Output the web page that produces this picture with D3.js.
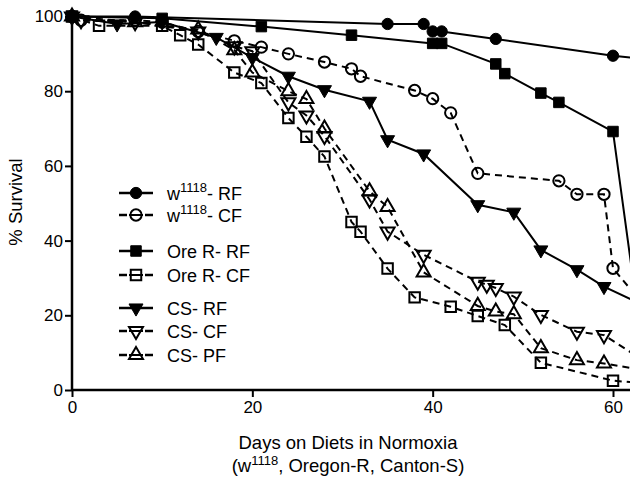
<!DOCTYPE html>
<html>
<head>
<meta charset="utf-8">
<script src="https://cdn.jsdelivr.net/npm/d3@7"></script>
<style>
  body { margin: 0; background: #fff; }
  text { font-family: "Liberation Sans", Arial, sans-serif; fill: #000; }
</style>
</head>
<body>
<script>
// survival data: [day, % survival]
const wRF = [[0,100],[7,100],[35,98],[39,98],[40,96],[41,96],[47,94],[60,89.5],[66,88]];
const wCF = [[0,100],[1,99],[7,99],[10,98.5],[14,96],[18,93.5],[21,91.8],[24,90],[28,87.8],[31,86],[32,84],[38,80.2],[40,78],[42,74.2],[45,58],[54,56],[56,52.4],[59,52.4],[60,32.6],[64,21]];
const oreRF = [[0,100],[10,99.5],[21,97.3],[31,95],[40,92.8],[41,92.8],[47,87.3],[48,84.7],[52,79.5],[54,77],[60,69.2],[63,16]];
const oreCF = [[0,100],[3,97.5],[10,97.5],[12,95],[14,92.5],[18,85],[21,82.2],[24,72.8],[26,67.8],[28,62.5],[31,45],[32,42.4],[35,32.5],[38,24.8],[42,22.3],[45,19.8],[48,17.4],[52,7.3],[60,2.5],[65,1.5]];
const csRF = [[0,100],[5,98],[10,98.5],[16,94.4],[20,89],[24,84],[28,80.4],[33,77.3],[35,67],[39,63.2],[45,49.6],[49,47.6],[52,37.5],[56,32.2],[59,27.7],[64,22]];
const csCF = [[0,100],[1,99],[7,98.5],[14,96],[18,92],[20,90.7],[24,77],[26,73.5],[28,68],[33,51],[35,42.4],[39,36.2],[45,29],[46,28.2],[47,27.3],[49,25],[52,20.1],[56,15.6],[59,14.7],[63,8.5]];
const csPF = [[0,100],[7,98.5],[14,96.5],[18,91],[20,85],[24,80],[26,77.9],[28,70],[33,53.2],[35,49],[39,31.5],[45,22.5],[47,21],[49,20.3],[52,11.2],[56,8],[59,7.1],[63,5.5]];

const xTicks = [0, 20, 40, 60];
const yTicks = [0, 20, 40, 60, 80, 100];

// series: name parts, data, marker, filled?, dashed?
const series = [
  {pre: "w", sup: "1118", post: "- RF", data: wRF, shape: "circle", fill: true, dash: false},
  {pre: "w", sup: "1118", post: "- CF", data: wCF, shape: "circle", fill: false, dash: true},
  {pre: "Ore R- RF", sup: "", post: "", data: oreRF, shape: "square", fill: true, dash: false},
  {pre: "Ore R- CF", sup: "", post: "", data: oreCF, shape: "square", fill: false, dash: true},
  {pre: "CS- RF", sup: "", post: "", data: csRF, shape: "down", fill: true, dash: false},
  {pre: "CS- CF", sup: "", post: "", data: csCF, shape: "down", fill: false, dash: true},
  {pre: "CS- PF", sup: "", post: "", data: csPF, shape: "up", fill: false, dash: true}
];

var width = 630, height = 480;

var svg = d3.select("body")
  .append("svg")
  .attr("width", width)
  .attr("height", height);

var x = d3.scaleLinear().domain([0, 60]).range([72, 613]);
var y = d3.scaleLinear().domain([0, 100]).range([390, 16.5]);

// symbol path for a marker shape
const symbolPath = shape => {
  if (shape === "circle") return d3.symbol(d3.symbolCircle, 100)();
  if (shape === "square") return d3.symbol(d3.symbolSquare, 110)();
  return d3.symbol(d3.symbolTriangle, 85)();
};

const drawMarker = (g, s, px, py) => {
  g.append("path")
    .attr("d", symbolPath(s.shape))
    .attr("transform", "translate(" + px + "," + py + ")" + (s.shape === "down" ? " rotate(180)" : ""))
    .attr("fill", s.fill ? "#000" : "none")
    .attr("stroke", "#000")
    .attr("stroke-width", s.fill ? 1 : 2);
};

var line = d3.line().x(d => x(d[0])).y(d => y(d[1]));

// lines first, then markers on top
series.forEach(s => {
  svg.append("path")
    .datum(s.data)
    .attr("d", line)
    .attr("fill", "none")
    .attr("stroke", "#000")
    .attr("stroke-width", 2)
    .attr("stroke-dasharray", s.dash ? "7,5" : null);
});
series.forEach(s => {
  var g = svg.append("g");
  s.data.forEach(d => drawMarker(g, s, x(d[0]), y(d[1])));
});

// axes
var xAxis = svg.append("g")
  .attr("transform", "translate(0,390)")
  .call(d3.axisBottom(x).tickValues(xTicks).tickSize(7).tickPadding(4).tickFormat(d3.format("d")));
xAxis.select(".domain").attr("d", "M72,0H640");
var yAxis = svg.append("g")
  .attr("transform", "translate(72,0)")
  .call(d3.axisLeft(y).tickValues(yTicks).tickSize(7).tickPadding(2).tickFormat(d3.format("d")));
yAxis.select(".domain").attr("d", "M0,390V16.5");

svg.selectAll(".domain").attr("stroke", "#000").attr("stroke-width", 2.5);
svg.selectAll(".tick line").attr("stroke", "#000").attr("stroke-width", 2);
svg.selectAll(".tick text")
  .style("font-family", "Liberation Sans, Arial, sans-serif")
  .style("font-size", "17px")
  .attr("fill", "#000");

// axis titles
svg.append("text")
  .attr("transform", "translate(22,202) rotate(-90)")
  .attr("text-anchor", "middle")
  .style("font-size", "18.5px")
  .text("% Survival");

svg.append("text")
  .attr("x", 348).attr("y", 449)
  .attr("text-anchor", "middle")
  .style("font-size", "18.5px")
  .text("Days on Diets in Normoxia");

var t2 = svg.append("text")
  .attr("x", 348).attr("y", 472)
  .attr("text-anchor", "middle")
  .style("font-size", "18.5px");
t2.append("tspan").text("(w");
t2.append("tspan").attr("dy", -7).style("font-size", "13px").text("1118");
t2.append("tspan").attr("dy", 7).text(", Oregon-R, Canton-S)");

// legend
const legendY = [193, 215, 251, 275, 308, 331, 355];
series.forEach((s, i) => {
  var g = svg.append("g");
  var ly = legendY[i];
  if (s.dash) {
    g.append("line").attr("x1", 119).attr("x2", 127).attr("y1", ly).attr("y2", ly)
      .attr("stroke", "#000").attr("stroke-width", 2.5);
    g.append("line").attr("x1", 129).attr("x2", 143).attr("y1", ly).attr("y2", ly)
      .attr("stroke", "#000").attr("stroke-width", 2);
    g.append("line").attr("x1", 145).attr("x2", 153).attr("y1", ly).attr("y2", ly)
      .attr("stroke", "#000").attr("stroke-width", 2.5);
  } else {
    g.append("line").attr("x1", 119).attr("x2", 153).attr("y1", ly).attr("y2", ly)
      .attr("stroke", "#000").attr("stroke-width", 2.5);
  }
  drawMarker(g, s, 136, ly);
  var t = g.append("text")
    .attr("x", 167).attr("y", ly + 6.5)
    .style("font-size", "18px");
  t.append("tspan").text(s.pre);
  if (s.sup) {
    t.append("tspan").attr("dy", -8).style("font-size", "13px").text(s.sup);
    t.append("tspan").attr("dy", 8).text(s.post);
  }
});
</script>
</body>
</html>
